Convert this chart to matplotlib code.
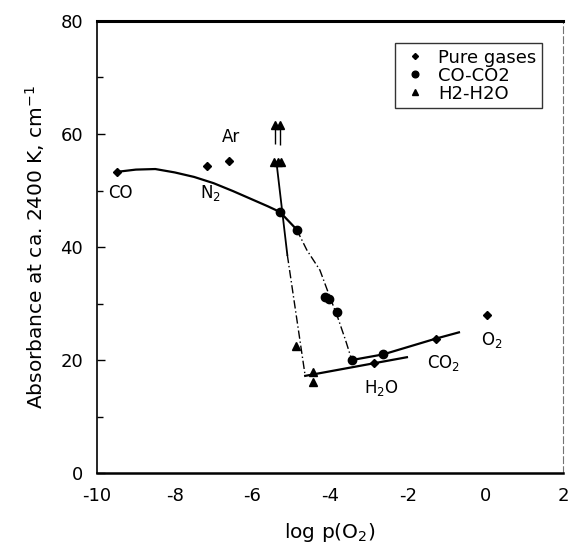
import matplotlib
matplotlib.use('Agg')
import matplotlib.pyplot as plt

# measured points (log pO2, absorbance)
pure_x = [-9.49, -7.17, -6.59, -2.87, -1.27, 0.05]
pure_y = [53.3, 54.4, 55.2, 19.4, 23.8, 28.0]

coco2_x = [-5.29, -4.86, -4.12, -4.02, -3.81, -3.44, -2.63]
coco2_y = [46.2, 43.1, 31.2, 30.8, 28.5, 20.0, 21.0]

h2h2o_x = [-5.45, -5.35, -5.27, -5.42, -5.30, -4.88, -4.43, -4.43]
h2h2o_y = [55.1, 55.1, 55.1, 61.6, 61.6, 22.5, 17.8, 16.2]

# hand drawn trend curves
co_curve_x = [-9.49, -9.0, -8.5, -8.0, -7.5, -7.0, -6.5, -6.0, -5.6, -5.29, -4.86]
co_curve_y = [53.3, 53.7, 53.8, 53.2, 52.4, 51.3, 49.9, 48.4, 47.2, 46.2, 43.1]
co_drop_x = [-4.86, -4.60, -4.26, -4.05, -3.80, -3.60, -3.44]
co_drop_y = [43.1, 39.5, 35.9, 32.0, 27.5, 23.5, 20.0]
co2_line_x = [-3.44, -2.63, -1.27, -0.68]
co2_line_y = [20.0, 21.0, 23.8, 24.9]

h2_drop_x = [-5.38, -5.10]
h2_drop_y = [55.0, 38.6]
h2_drop2_x = [-5.10, -4.64]
h2_drop2_y = [38.6, 17.2]
h2o_line_x = [-4.64, -2.02]
h2o_line_y = [17.2, 20.5]

# short bars above the H2 triangles
bar_x = [-5.42, -5.30]
bar_top = [60.8, 60.8]
bar_bot = [58.3, 58.0]

labels = [('CO', -9.72, 49.6), ('N$_2$', -7.35, 49.6), ('Ar', -6.78, 59.4),
          ('H$_2$O', -3.12, 15.0), ('CO$_2$', -1.50, 19.4), ('O$_2$', -0.12, 23.6)]

plt.rcParams['font.family'] = ['DejaVu Sans']
plt.rcParams['axes.unicode_minus'] = False

fig = plt.figure(figsize=(5.71, 5.52), dpi=100)
ax = fig.add_axes([0.170, 0.143, 0.816, 0.819])

ax.plot(co_curve_x, co_curve_y, color='k', lw=1.6)
ax.plot(co_drop_x, co_drop_y, color='k', lw=1.0, ls=(0, (6, 2, 1, 2)))
ax.plot(co2_line_x, co2_line_y, color='k', lw=1.6)
ax.plot(h2_drop_x, h2_drop_y, color='k', lw=1.3)
ax.plot(h2_drop2_x, h2_drop2_y, color='k', lw=1.0, ls=(0, (6, 2, 1, 2)))
ax.plot(h2o_line_x, h2o_line_y, color='k', lw=1.6)
ax.vlines(bar_x, bar_bot, bar_top, color='k', lw=1.0)

ax.plot(pure_x, pure_y, 'D', color='k', ms=3.8, ls='none', label='Pure gases')
ax.plot(coco2_x, coco2_y, 'o', color='k', ms=6, ls='none', label='CO-CO2')
ax.plot(h2h2o_x, h2h2o_y, '^', color='k', ms=5.5, ls='none', label='H2-H2O')

for txt, x, y in labels:
    ax.text(x, y, txt, fontsize=12, ha='left', va='center')

ax.set_xlim(-10, 2)
ax.set_ylim(0, 80)
ax.set_xticks([-10, -8, -6, -4, -2, 0, 2])
ax.set_yticks([0, 20, 40, 60, 80])
ax.set_yticks([10, 30, 50, 70], minor=True)
ax.tick_params(direction='in', labelsize=13, length=6, width=1, pad=10)
ax.tick_params(which='minor', direction='in', length=4, width=1)
ax.tick_params(axis='x', length=0, pad=10)

ax.spines['top'].set_linewidth(2.2)
ax.spines['left'].set_linewidth(1.2)
ax.spines['bottom'].set_linewidth(1.8)
ax.spines['right'].set_linewidth(0.8)
ax.spines['right'].set_color('0.45')
ax.spines['right'].set_linestyle((0, (6, 3)))

ax.set_xlabel('log p(O$_2$)', fontsize=14.5)
ax.set_ylabel('Absorbance at ca. 2400 K, cm$^{-1}$', fontsize=14.5)
ax.yaxis.set_label_coords(-0.108, 0.5)
ax.xaxis.set_label_coords(0.5, -0.105)

leg = ax.legend(loc='upper right', bbox_to_anchor=(0.955, 0.951), fontsize=13,
                frameon=True, fancybox=False, edgecolor='k', handlelength=1.6,
                handletextpad=0.5, labelspacing=0.0, borderpad=0.3,
                borderaxespad=0, markerscale=0.8)
leg.get_frame().set_linewidth(1.0)

fig.savefig('out.png', dpi=100)
